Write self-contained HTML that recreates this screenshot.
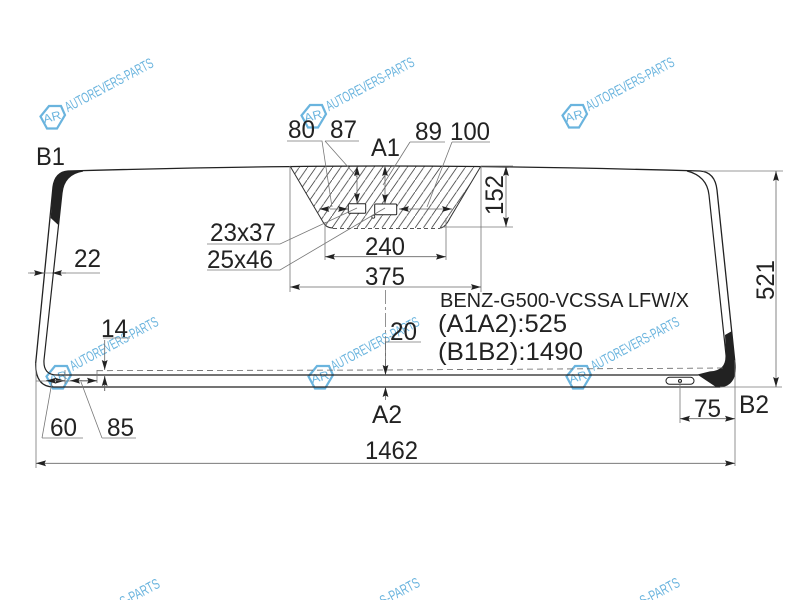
<!DOCTYPE html>
<html><head><meta charset="utf-8"><style>
html,body{margin:0;padding:0;background:#fff;width:800px;height:600px;overflow:hidden}
svg{display:block}
.t{font-family:"Liberation Sans",sans-serif;font-size:25px;fill:#222}
.w{font-family:"Liberation Sans",sans-serif;font-size:14.500px;fill:#6ab4de}
.l{font-family:"Liberation Sans",sans-serif;font-size:12px;fill:#6ab4de}
.hex{fill:none;stroke:#6ab4de;stroke-width:2.200}
</style></head><body>
<svg width="800" height="600" viewBox="0 0 800 600" xmlns="http://www.w3.org/2000/svg">
<defs>
<marker id="a" markerUnits="userSpaceOnUse" markerWidth="11" markerHeight="7" refX="10" refY="3.5" orient="auto-start-reverse"><path d="M0 .6L10 3.5L0 6.400L1.500 3.500Z" fill="#222"/></marker>
<pattern id="h" patternUnits="userSpaceOnUse" width="8.3" height="12"><path d="M-1 13.45L9.3 -1.45" stroke="#444" stroke-width=".8"/></pattern>
</defs>

<g>
<g transform="translate(52 117)"><path class="hex" d="M-11.500 -.5L-3 -11L9 -11L13 -2L5 11.500L-5 11.500Z"/><text class="l" transform="rotate(-15)" x="-9" y="4" textLength="18" lengthAdjust="spacingAndGlyphs">AR</text></g>
<text class="w" transform="translate(68 112.300) rotate(-28)" textLength="98" lengthAdjust="spacingAndGlyphs">AUTOREVERS-PARTS</text>
<g transform="translate(313 116)"><path class="hex" d="M-11.500 -.5L-3 -11L9 -11L13 -2L5 11.500L-5 11.500Z"/><text class="l" transform="rotate(-15)" x="-9" y="4" textLength="18" lengthAdjust="spacingAndGlyphs">AR</text></g>
<text class="w" transform="translate(329 111.300) rotate(-28)" textLength="98" lengthAdjust="spacingAndGlyphs">AUTOREVERS-PARTS</text>
<g transform="translate(574 116)"><path class="hex" d="M-11.500 -.5L-3 -11L9 -11L13 -2L5 11.500L-5 11.500Z"/><text class="l" transform="rotate(-15)" x="-9" y="4" textLength="18" lengthAdjust="spacingAndGlyphs">AR</text></g>
<text class="w" transform="translate(589 111.300) rotate(-28)" textLength="98" lengthAdjust="spacingAndGlyphs">AUTOREVERS-PARTS</text>
<g transform="translate(58 377)"><path class="hex" d="M-11.500 -.5L-3 -11L9 -11L13 -2L5 11.500L-5 11.500Z"/><text class="l" transform="rotate(-15)" x="-9" y="4" textLength="18" lengthAdjust="spacingAndGlyphs">AR</text></g>
<text class="w" transform="translate(73 371) rotate(-28)" textLength="98" lengthAdjust="spacingAndGlyphs">AUTOREVERS-PARTS</text>
<g transform="translate(320 377)"><path class="hex" d="M-11.500 -.5L-3 -11L9 -11L13 -2L5 11.500L-5 11.500Z"/><text class="l" transform="rotate(-15)" x="-9" y="4" textLength="18" lengthAdjust="spacingAndGlyphs">AR</text></g>
<text class="w" transform="translate(334 371) rotate(-28)" textLength="98" lengthAdjust="spacingAndGlyphs">AUTOREVERS-PARTS</text>
<g transform="translate(578 377)"><path class="hex" d="M-11.500 -.5L-3 -11L9 -11L13 -2L5 11.500L-5 11.500Z"/><text class="l" transform="rotate(-15)" x="-9" y="4" textLength="18" lengthAdjust="spacingAndGlyphs">AR</text></g>
<text class="w" transform="translate(594 371) rotate(-28)" textLength="98" lengthAdjust="spacingAndGlyphs">AUTOREVERS-PARTS</text>
<text class="w" transform="translate(123 607) rotate(-28)" textLength="43" lengthAdjust="spacingAndGlyphs">S-PARTS</text>
<text class="w" transform="translate(383 606) rotate(-28)" textLength="43" lengthAdjust="spacingAndGlyphs">S-PARTS</text>
<text class="w" transform="translate(643 606) rotate(-28)" textLength="43" lengthAdjust="spacingAndGlyphs">S-PARTS</text>
</g>

<!-- hatched zone -->
<path d="M290 166L323 222Q326 228 333 228L440 228Q445 228 450 218L481 166Z" fill="url(#h)"/>
<path d="M290 166L323 222Q326 228 333 228M440 228Q445 228 450 218L481 166" fill="none" stroke="#333" stroke-width="1"/>
<path d="M333 228.500L440 228.500" fill="none" stroke="#555" stroke-width="1" stroke-dasharray="4 3"/>

<!-- black corners -->
<path d="M83 171Q64 174 62 193L58.300 225L50.700 218L53 187Q55 172 68 171Z" fill="#222"/>
<path d="M725 335L732 331L735 363Q737 385 720 387L716 387L698 375L710 372Q727 371 726 355Z" fill="#222"/>

<!-- glass -->
<path d="M53 187L35.700 363Q35 387 54 387L720 387Q737 385 735 363L717 190Q715 172 700 171Q520 166 385 166Q250 166 68 171Q55 172 53 187Z" fill="none" stroke="#222" stroke-width="1.300"/>
<path d="M83 171Q64 174 62 193L44 360Q43 375 57 375L698 375M687 171Q707 176 709 195L726 355Q727 371 710 372L698 375" fill="none" stroke="#222" stroke-width="1.200"/>
<path d="M97 370.700L385 370L723 368" fill="none" stroke="#666" stroke-width=".8" stroke-dasharray="6 4"/>

<!-- cutouts -->
<rect x="348.300" y="203.700" width="17.400" height="9.600" rx="1" fill="#fff" stroke="#222" stroke-width="1"/>
<rect x="374.700" y="204" width="22" height="10.700" rx="1" fill="#fff" stroke="#222" stroke-width="1"/>
<circle cx="373.300" cy="216.700" r="1.500" fill="#fff" stroke="#222" stroke-width=".8"/>
<rect x="666" y="377.300" width="28" height="7" rx="3.500" fill="#fff" stroke="#222" stroke-width="1"/>
<circle cx="680" cy="381" r="1.500" fill="#fff" stroke="#222" stroke-width="1"/>

<!-- extension and leader lines -->
<g fill="none" stroke="#777" stroke-width=".8">
<path d="M36 363V468M735 360V466M703 171H783M720 387H782M680 381V423"/>
<path d="M481 166H513M440 227H513M325 222V260M446 218V260M290 166V292M481 166V292"/>
<path d="M287 141H322L332 207M325 141H359M325 141L357 177M410 142H445M410 142L383 185M452 142H490M452 142L427 207"/>
<path d="M207 244H280L357 208M207 270H280L385 208"/>
<path d="M385.500 290V372" stroke-dasharray="14 3 3 3"/>
<path d="M385 342H421M103 338H130M28 273H100"/>
<path d="M42 438H83M42 438L52 382M102 438H136M102 438L81 382"/>
<path d="M65 370V384M97 370V383M36 381H97M104.700 376V391"/>
</g>

<!-- dimension arrows -->
<g fill="none" stroke="#666" stroke-width=".8" marker-start="url(#a)" marker-end="url(#a)">
<path d="M36 463.300H735"/>
<path d="M776 171V387"/>
<path d="M680 418.700H735"/>
<path d="M506 166V227"/>
<path d="M325 256.700H446"/>
<path d="M290 287H481"/>
<path d="M357 166V203"/>
<path d="M385 166V204"/>
</g>
<g fill="none" stroke="#666" stroke-width=".8">
<path d="M329 209H319.300" marker-end="url(#a)"/>
<path d="M330 209H348" marker-end="url(#a)"/>
<path d="M425 209H399" marker-end="url(#a)"/>
<path d="M425 209H452" marker-end="url(#a)"/>
<path d="M30 273H44" marker-end="url(#a)"/>
<path d="M66 273H52" marker-end="url(#a)"/>
<path d="M385.500 342V375" marker-end="url(#a)"/>
<path d="M385.500 400V387" marker-end="url(#a)"/>
<path d="M104.700 340V370" marker-end="url(#a)"/>
<path d="M104.700 391V376" marker-end="url(#a)"/>
<path d="M48 380.700H65" marker-end="url(#a)"/>
<path d="M65 380.700H46" marker-end="url(#a)"/>
<path d="M82 380.700H70" marker-end="url(#a)"/>
<path d="M80 380.700H97" marker-end="url(#a)"/>
</g>

<!-- labels -->
<g>
<text class="t" x="36" y="165" textLength="29" lengthAdjust="spacingAndGlyphs">B1</text>
<text class="t" x="739" y="413" textLength="30" lengthAdjust="spacingAndGlyphs">B2</text>
<text class="t" x="371" y="156" textLength="29" lengthAdjust="spacingAndGlyphs">A1</text>
<text class="t" x="372" y="423" textLength="30" lengthAdjust="spacingAndGlyphs">A2</text>
<text class="t" x="288" y="138" textLength="27" lengthAdjust="spacingAndGlyphs">80</text>
<text class="t" x="330" y="138" textLength="27" lengthAdjust="spacingAndGlyphs">87</text>
<text class="t" x="415" y="140" textLength="27" lengthAdjust="spacingAndGlyphs">89</text>
<text class="t" x="450" y="140" textLength="40" lengthAdjust="spacingAndGlyphs">100</text>
<text class="t" transform="translate(503 215) rotate(-90)" textLength="40" lengthAdjust="spacingAndGlyphs">152</text>
<text class="t" transform="translate(774 300) rotate(-90)" textLength="40" lengthAdjust="spacingAndGlyphs">521</text>
<text class="t" x="365" y="255" textLength="40" lengthAdjust="spacingAndGlyphs">240</text>
<text class="t" x="365" y="285" textLength="40" lengthAdjust="spacingAndGlyphs">375</text>
<text class="t" x="210" y="241" textLength="66" lengthAdjust="spacingAndGlyphs">23x37</text>
<text class="t" x="207" y="268" textLength="66" lengthAdjust="spacingAndGlyphs">25x46</text>
<text class="t" x="74" y="267" textLength="27" lengthAdjust="spacingAndGlyphs">22</text>
<text class="t" x="101" y="337" textLength="27" lengthAdjust="spacingAndGlyphs">14</text>
<text class="t" x="390" y="340" textLength="27" lengthAdjust="spacingAndGlyphs">20</text>
<text class="t" x="50" y="436" textLength="27" lengthAdjust="spacingAndGlyphs">60</text>
<text class="t" x="107" y="436" textLength="27" lengthAdjust="spacingAndGlyphs">85</text>
<text class="t" x="694" y="417" textLength="27" lengthAdjust="spacingAndGlyphs">75</text>
<text class="t" x="365" y="459" textLength="53" lengthAdjust="spacingAndGlyphs">1462</text>
<text class="t" x="440" y="307" style="font-size:20px" textLength="249" lengthAdjust="spacingAndGlyphs">BENZ-G500-VCSSA LFW/X</text>
<text class="t" x="438" y="332" textLength="129" lengthAdjust="spacingAndGlyphs">(A1A2):525</text>
<text class="t" x="438" y="360" textLength="145" lengthAdjust="spacingAndGlyphs">(B1B2):1490</text>
</g>
</svg>
</body></html>
